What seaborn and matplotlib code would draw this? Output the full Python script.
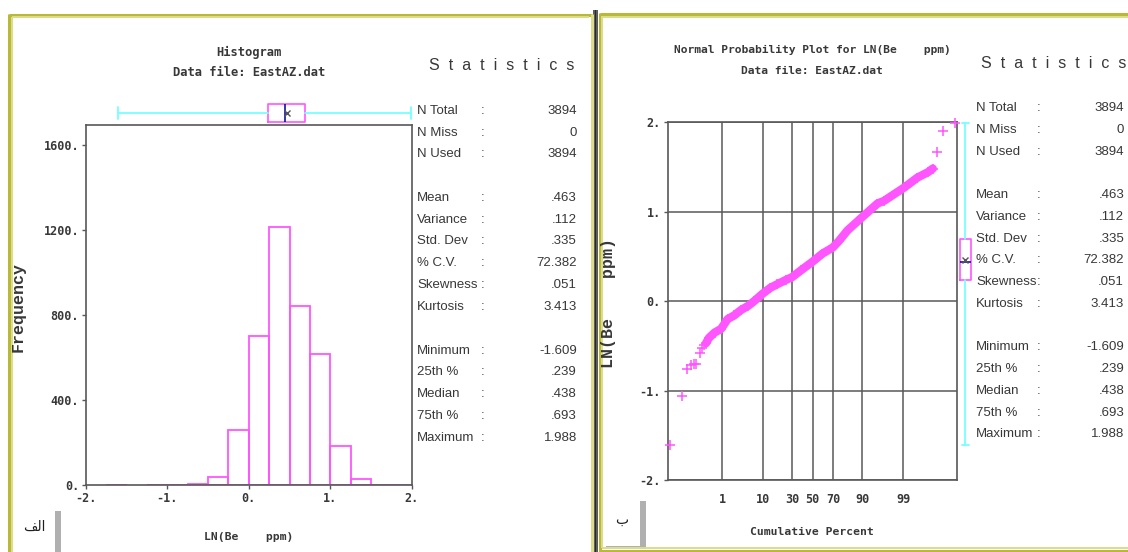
import statistics

import matplotlib
matplotlib.use("Agg")
import matplotlib.pyplot as plt
from matplotlib.patches import Rectangle
import numpy as np
import pandas as pd
import seaborn as sns

W, H = 1128, 552

# ---- data -------------------------------------------------------------
# histogram of LN(Be ppm), bin width 0.25
bin_edges = [-2.0, -1.75, -1.5, -1.25, -1.0, -0.75, -0.5, -0.25, 0.0,
             0.25, 0.5, 0.75, 1.0, 1.25, 1.5, 1.75, 2.0]
bin_counts = [0, 1, 0, 1, 1, 7, 38, 258, 702, 1215, 841, 615, 183, 29, 1, 2]

# normal probability plot: cumulative percent vs LN(Be ppm)
tail_low_pct = [0.013, 0.039, 0.064, 0.090, 0.116, 0.141, 0.19, 0.23, 0.27]
tail_low_val = [-1.609, -1.06, -0.76, -0.71, -0.70, -0.70, -0.58, -0.52, -0.49]
band_pct = [0.31, 0.39, 0.6, 0.94, 1.46, 2.2, 3.29, 5.0, 6.68, 10.0, 14.0,
            18.4, 25.0, 30.0, 38.2, 50.0, 60.0, 70.0, 75.0, 81.6, 90.0,
            95.25, 96.7, 99.09, 99.65, 99.85, 99.90]
band_val = [-0.47, -0.41, -0.35, -0.31, -0.20, -0.16, -0.10, -0.05, 0.0,
            0.083, 0.15, 0.19, 0.239, 0.268, 0.343, 0.44, 0.53, 0.60, 0.67,
            0.79, 0.94, 1.09, 1.12, 1.27, 1.38, 1.44, 1.48]
tail_high_pct = [99.93, 99.96, 99.987]
tail_high_val = [1.67, 1.90, 1.988]

stat_labels = ["N Total", "N Miss", "N Used",
               "Mean", "Variance", "Std. Dev", "% C.V.", "Skewness", "Kurtosis",
               "Minimum", "25th %", "Median", "75th %", "Maximum"]
stat_values = [3894, 0, 3894,
               0.463, 0.112, 0.335, 72.382, 0.051, 3.413,
               -1.609, 0.239, 0.438, 0.693, 1.988]
stat_rows = [0, 1, 2, 4, 5, 6, 7, 8, 9, 11, 12, 13, 14, 15]

hist_xticks = [-2, -1, 0, 1, 2]
hist_yticks = [0, 400, 800, 1200, 1600]
pct_ticks = [1, 10, 30, 50, 70, 90, 99]
prob_yticks = [-2, -1, 0, 1, 2]

stats = dict(zip(stat_labels, stat_values))

# ---- style ------------------------------------------------------------
sns.set_theme(style="white")
plt.rcParams["font.family"] = ["DejaVu Sans Mono", "DejaVu Sans"]
plt.rcParams["font.weight"] = "bold"

MAG = "#ff55ff"
CYAN = "#77ffff"
NAVY = "#1010a0"
GRID = "#585858"
TXT = "#383838"
OLIVE = "#b9b935"
OLIVE_L = "#dcdc8c"
STAT_FONT = ["Liberation Sans", "DejaVu Sans"]
LABEL_FONT = ["Liberation Mono", "DejaVu Sans Mono"]

nd = statistics.NormalDist()


def z_of(p):
    return nd.inv_cdf(p / 100.0)


def fmt(v):
    if isinstance(v, int):
        return str(v)
    s = f"{v:.3f}"
    if s.startswith("0."):
        s = s[1:]
    return s


def rect(x0, y0, x1, y1):
    """pixel box (origin top-left) -> figure fraction rect"""
    return [x0 / W, 1 - y1 / H, (x1 - x0) / W, (y1 - y0) / H]


fig = plt.figure(figsize=(W / 100, H / 100), dpi=100)
fig.patch.set_facecolor("white")

# background layer in pixel coordinates
bg = fig.add_axes([0, 0, 1, 1], zorder=0)
bg.set_xlim(0, W)
bg.set_ylim(H, 0)
bg.axis("off")

# window frames
for xs, ys, c, lw in [
    ([9, 9], [14, 552], OLIVE, 2.2), ([9, 592], [14.5, 14.5], OLIVE, 2.2),
    ([591.5, 591.5], [14, 552], OLIVE_L, 2.2),
    ([11.8, 11.8], [17, 552], OLIVE_L, 1.4), ([11.8, 589], [17, 17], OLIVE_L, 1.4),
    ([599.5, 599.5], [13, 552], OLIVE, 2.2), ([599.5, 1128], [13.5, 13.5], OLIVE, 2.2),
    ([602, 602], [16, 548], OLIVE_L, 1.4), ([602, 1128], [16.5, 16.5], OLIVE_L, 1.4),
    ([599.5, 1128], [550.5, 550.5], OLIVE, 2.2), ([602, 1128], [547.5, 547.5], OLIVE_L, 1.4),
]:
    bg.plot(xs, ys, color=c, lw=lw, solid_capstyle="butt")
bg.add_patch(Rectangle((593, 10), 5, 542, color="#5c5c5c", lw=0))
bg.add_patch(Rectangle((595, 10), 1, 542, color="#2a2a2a", lw=0))

# panel tags with drop shadow
for (x0, y0, x1, y1, tag, tx, ty) in [
    (13, 508, 55, 552, "\ufed2\ufedf\ufe8d", 34, 527),
    (603, 498, 640, 546, "\u0628", 622, 520),
]:
    bg.add_patch(Rectangle((x1, y0 + 3), 6, y1 - y0, color="#b0b0b0", lw=0))
    bg.add_patch(Rectangle((x0 + 3, y1 - 3), x1 - x0, 4, color="#b0b0b0", lw=0))
    bg.add_patch(Rectangle((x0, y0), x1 - x0, y1 - y0, color="white", lw=0))
    bg.text(tx, ty, tag, ha="center", va="center", fontsize=10, color="#202020",
            family="DejaVu Sans", weight="normal")

# titles and axis labels
tkw = dict(ha="center", va="center", color=TXT, weight="bold")
bg.text(249, 52, "Histogram", fontsize=8.7, **tkw)
bg.text(249, 73, "Data file: EastAZ.dat", fontsize=8.7, **tkw)
bg.text(249, 537, "LN(Be    ppm)", fontsize=8.2, **tkw)
bg.text(18, 307, "Frequency", fontsize=12, rotation=90, family=LABEL_FONT, **tkw)
bg.text(812, 50, "Normal Probability Plot for LN(Be    ppm)", fontsize=8.1, **tkw)
bg.text(812, 71, "Data file: EastAZ.dat", fontsize=8.1, **tkw)
bg.text(812, 532, "Cumulative Percent", fontsize=8.2, **tkw)
bg.text(608, 303, "LN(Be    ppm)", fontsize=12, rotation=90, family=LABEL_FONT, **tkw)

# statistics tables
for (lx, cx, vx, hx, hy, y0, dy) in [
    (417, 481, 577, 501.7, 66, 110.7, 21.8),
    (976, 1037, 1124, 1053.5, 63.3, 108.3, 21.73),
]:
    bg.text(hx, hy, "S  t  a  t  i  s  t  i  c  s", ha="center", va="center",
            fontsize=11.5, color=TXT, family=STAT_FONT, weight="normal")
    for lab, val, r in zip(stat_labels, stat_values, stat_rows):
        y = y0 + dy * r
        kw = dict(va="center", fontsize=9.5, color=TXT, family=STAT_FONT, weight="normal")
        bg.text(lx, y, lab, ha="left", **kw)
        bg.text(cx, y, ":", ha="left", **kw)
        bg.text(vx, y, fmt(val), ha="right", **kw)

# ---- histogram --------------------------------------------------------
hax = fig.add_axes(rect(86, 125, 411.7, 485), zorder=1)
centers = [(a + b) / 2 for a, b in zip(bin_edges[:-1], bin_edges[1:])]
hist_df = pd.DataFrame({"ln_be": centers, "count": bin_counts})
sns.histplot(data=hist_df, x="ln_be", weights="count", bins=bin_edges,
             fill=False, color=MAG, linewidth=1.3, ax=hax)
for p in list(hax.patches):
    if p.get_height() == 0:
        p.remove()
hax.set_xlim(-2, 2)
hax.set_ylim(0, 1694)
hax.set_xlabel("")
hax.set_ylabel("")
hax.set_xticks(hist_xticks, [f"{t}." for t in hist_xticks])
hax.set_yticks(hist_yticks, [f"{t}." for t in hist_yticks])
hax.tick_params(direction="out", length=3, width=1, color=GRID, labelsize=8.5,
                labelcolor=TXT, pad=2, left=True, bottom=True)
for s in hax.spines.values():
    s.set_color(GRID)
    s.set_linewidth(1.2)

# box summary above the histogram
box = [dict(med=stats["Median"], q1=stats["25th %"], q3=stats["75th %"],
            whislo=stats["Minimum"], whishi=stats["Maximum"],
            mean=stats["Mean"], fliers=[])]
common = dict(showmeans=True, meanline=False,
              boxprops=dict(color=MAG, lw=1.2),
              whiskerprops=dict(color=CYAN, lw=1.3),
              capprops=dict(color=CYAN, lw=1.3),
              medianprops=dict(color=NAVY, lw=1.2),
              meanprops=dict(marker="x", markeredgecolor="#555555", markersize=5,
                             markeredgewidth=1))

bax = fig.add_axes(rect(86, 100, 411.7, 126), zorder=2)
bax.patch.set_alpha(0)
try:
    bax.bxp(box, positions=[0], widths=1.38, capwidths=0.85,
            orientation="horizontal", **common)
except TypeError:
    bax.bxp(box, positions=[0], widths=1.38, capwidths=0.85, vert=False, **common)
bax.set_xlim(-2, 2)
bax.set_ylim(-1, 1)
bax.axis("off")

# ---- normal probability plot -----------------------------------------
pax = fig.add_axes(rect(667.7, 122, 957.3, 480.3), zorder=1)
pax.set_xlim(-3.72, 3.72)
pax.set_ylim(-2, 2)
pax.set_xticks([z_of(p) for p in pct_ticks], [str(p) for p in pct_ticks])
pax.set_yticks(prob_yticks, [f"{t}." for t in prob_yticks])
pax.grid(True, color=GRID, lw=1.1)
pax.tick_params(axis="x", length=0, labelsize=8.5, labelcolor=TXT, pad=9)
pax.tick_params(axis="y", direction="out", length=3, width=1, color=GRID,
                labelsize=8.5, labelcolor=TXT, pad=2, left=True)
for s in pax.spines.values():
    s.set_color(GRID)
    s.set_linewidth(1.2)

band_df = pd.DataFrame({"z": [z_of(p) for p in band_pct], "v": band_val})
pax.plot(band_df["z"], band_df["v"], color=MAG, lw=6, solid_capstyle="round",
         solid_joinstyle="round", zorder=3)
pts_df = pd.DataFrame({
    "z": [z_of(p) for p in tail_low_pct + band_pct + tail_high_pct],
    "v": tail_low_val + band_val + tail_high_val,
})
sns.scatterplot(data=pts_df, x="z", y="v", marker="+", s=55, linewidth=1.1,
                color=MAG, ax=pax, zorder=4, clip_on=False)
pax.set_xlabel("")
pax.set_ylabel("")

# vertical box summary beside the probability plot
vax = fig.add_axes(rect(955, 122, 975, 480.3), zorder=2)
vax.patch.set_alpha(0)
vax.bxp(box, positions=[0], widths=1.1, capwidths=0.7, **common)
vax.set_xlim(-1, 1)
vax.set_ylim(-2, 2)
vax.axis("off")

fig.savefig("out.png", dpi=100, facecolor="white")
